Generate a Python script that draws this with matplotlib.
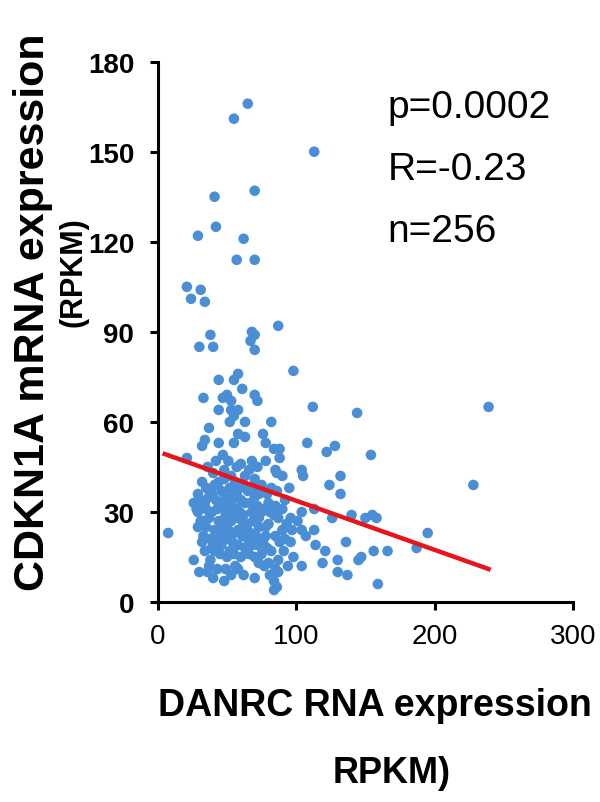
import numpy as np
import matplotlib
matplotlib.use("Agg")
import matplotlib.pyplot as plt

# DANRC (x) vs CDKN1A (y), RPKM
high_x = [65, 55, 113, 41, 70, 42, 29, 62, 57, 70,
          21, 24, 31, 34, 87, 38, 30, 40, 68, 70,
          67, 70, 98, 58, 55, 44, 61, 33, 50, 47,
          70, 72, 44, 53, 53, 58, 55, 52, 112, 144,
          239, 63, 82]
high_y = [166, 161, 150, 135, 137, 125, 122, 121, 114, 114,
          105, 101, 104, 100, 92, 89, 85, 85, 90, 89,
          87, 84, 77, 76, 74, 74, 71, 68, 69, 68,
          69, 67, 64, 67, 64, 64, 62, 60, 65, 63,
          65, 60, 60]

mid_x = [37, 34, 32, 44, 58, 63, 55, 76, 78, 84,
         47, 51, 57, 68, 85, 21, 40, 44, 32, 56,
         63, 75, 82, 70,
         108, 122, 128, 154, 88, 88, 86, 104, 105, 132, 124, 132]
mid_y = [58, 54, 52, 53, 56, 55, 53, 56, 53, 51,
         49, 47, 45, 47, 44, 48, 43, 40, 40, 40,
         42, 39, 38, 41,
         53, 50, 52, 49, 51, 48, 43, 44, 42, 42, 39, 36]

low_x = [29, 39, 46, 57, 65, 70, 26, 34, 45, 53,
         63, 80, 85, 86,
         29, 39, 49, 59, 73, 84, 33, 53, 65, 41,
         58, 78,
         87, 96, 90, 97, 104, 113, 96, 107, 85, 78,
         104, 113, 126, 140, 150, 155, 158, 101,
         114, 136, 121, 119, 130, 130, 137, 145, 147, 156,
         166, 159, 104, 187, 195, 228,
         7.5, 33, 26, 30, 40, 48, 62, 70, 84, 37,
         38, 49, 56, 41, 44, 46, 51, 52, 61, 63,
         68, 70, 75, 80, 81, 84, 82, 91, 98, 87,
         87, 86, 94]
low_y = [36, 36, 37, 36, 37, 35, 33, 33, 33, 33,
         33, 33, 32, 37,
         30, 30, 29, 30, 28, 29, 27, 27, 26, 24,
         24, 25,
         28, 28, 24, 24, 24, 24, 20, 22, 22, 22,
         30, 31, 28, 29, 28, 29, 28, 27,
         19, 20, 17, 13, 14, 10, 9, 14, 15, 17,
         17, 6, 12, 18, 23, 39,
         23, 22, 14, 10, 8, 7, 9, 8, 4, 12,
         14, 11, 12, 17, 22, 19, 21, 17, 22, 18,
         19, 15, 16, 13, 9, 7, 17, 17, 15, 14,
         10, 5, 12]

core_x = [36, 42, 48, 53, 60, 66, 72, 78, 90, 95,
          35, 41, 48, 52, 59, 62, 68, 73, 79, 92,
          31, 37, 42, 49, 55, 60, 67, 72, 77, 90,
          28, 35, 43, 47, 52, 57, 62, 68, 75, 81,
          31, 37, 44, 48, 56, 61, 69, 73, 80, 93,
          29, 35, 45, 51, 55, 63, 67, 71, 76, 88,
          32, 38, 42, 48, 54, 58, 65, 72, 79, 92,
          34, 39, 45, 50, 55, 60, 66, 73, 77, 85,
          36, 43, 53, 58]
core_y = [45, 47, 44, 42, 46, 44, 45, 47, 42, 38,
          38, 39, 41, 38, 38, 39, 38, 36, 36, 34,
          34, 35, 34, 35, 35, 34, 33, 32, 31, 31,
          31, 31, 31, 32, 30, 31, 29, 30, 30, 30,
          27, 28, 27, 26, 28, 27, 27, 25, 26, 26,
          25, 25, 25, 24, 23, 25, 23, 22, 20, 20,
          20, 21, 20, 22, 20, 19, 21, 19, 18, 21,
          17, 18, 16, 15, 16, 15, 16, 13, 12, 11,
          10, 11, 9, 11]

# regression line end points
fit_x = [5, 239]
fit_y = [49.3, 11]

x_ticks = [0, 100, 200, 300]
y_ticks = [0, 30, 60, 90, 120, 150, 180]

stats = ["p=0.0002", "R=-0.23", "n=256"]

plt.rcParams['font.family'] = ['Liberation Sans', 'DejaVu Sans']

def main():
    xs = np.array(high_x + mid_x + low_x + core_x, dtype=float)
    ys = np.array(high_y + mid_y + low_y + core_y, dtype=float)

    fig = plt.figure(figsize=(6.0, 8.03), dpi=100)
    ax = fig.add_axes([0.263, 0.249, 0.692, 0.673])

    ax.scatter(xs, ys, s=58, color='#4a8fd6', edgecolors='none', zorder=2)
    ax.plot(fit_x, fit_y, color='#e8141b', lw=3.2, zorder=3)

    ax.set_xlim(0, 300)
    ax.set_ylim(0, 180)
    ax.set_xticks(x_ticks)
    ax.set_yticks(y_ticks)
    for s in ['top', 'right']:
        ax.spines[s].set_visible(False)
    for s in ['left', 'bottom']:
        ax.spines[s].set_linewidth(2.2)
    ax.tick_params(axis='both', direction='out', length=6, width=2.2)
    ax.tick_params(axis='y', pad=11)
    ax.tick_params(axis='x', pad=9)
    for lab in ax.get_yticklabels():
        lab.set_fontsize(20)
        lab.set_fontweight('bold')
    for lab in ax.get_xticklabels():
        lab.set_fontsize(20)

    for i, t in enumerate(stats):
        ax.text(0.554, 0.898 - i * 0.115, t, transform=ax.transAxes,
                fontsize=28, va='baseline', ha='left')

    fig.text(375 / 600, 1 - 716 / 803, "DANRC RNA expression", fontsize=27,
             fontweight='bold', ha='center', va='baseline')
    fig.text(392 / 600, 1 - 783 / 803, "RPKM)", fontsize=26,
             fontweight='bold', ha='center', va='baseline')
    fig.text(33 / 600, 1 - 312 / 803, "CDKN1A mRNA expression", fontsize=31,
             fontweight='bold', ha='center', va='center', rotation=90)
    fig.text(74 / 600, 1 - 272 / 803, "(RPKM)", fontsize=22,
             fontweight='bold', ha='center', va='center', rotation=90)

    fig.savefig("out.png", dpi=100)

if __name__ == "__main__":  main()
